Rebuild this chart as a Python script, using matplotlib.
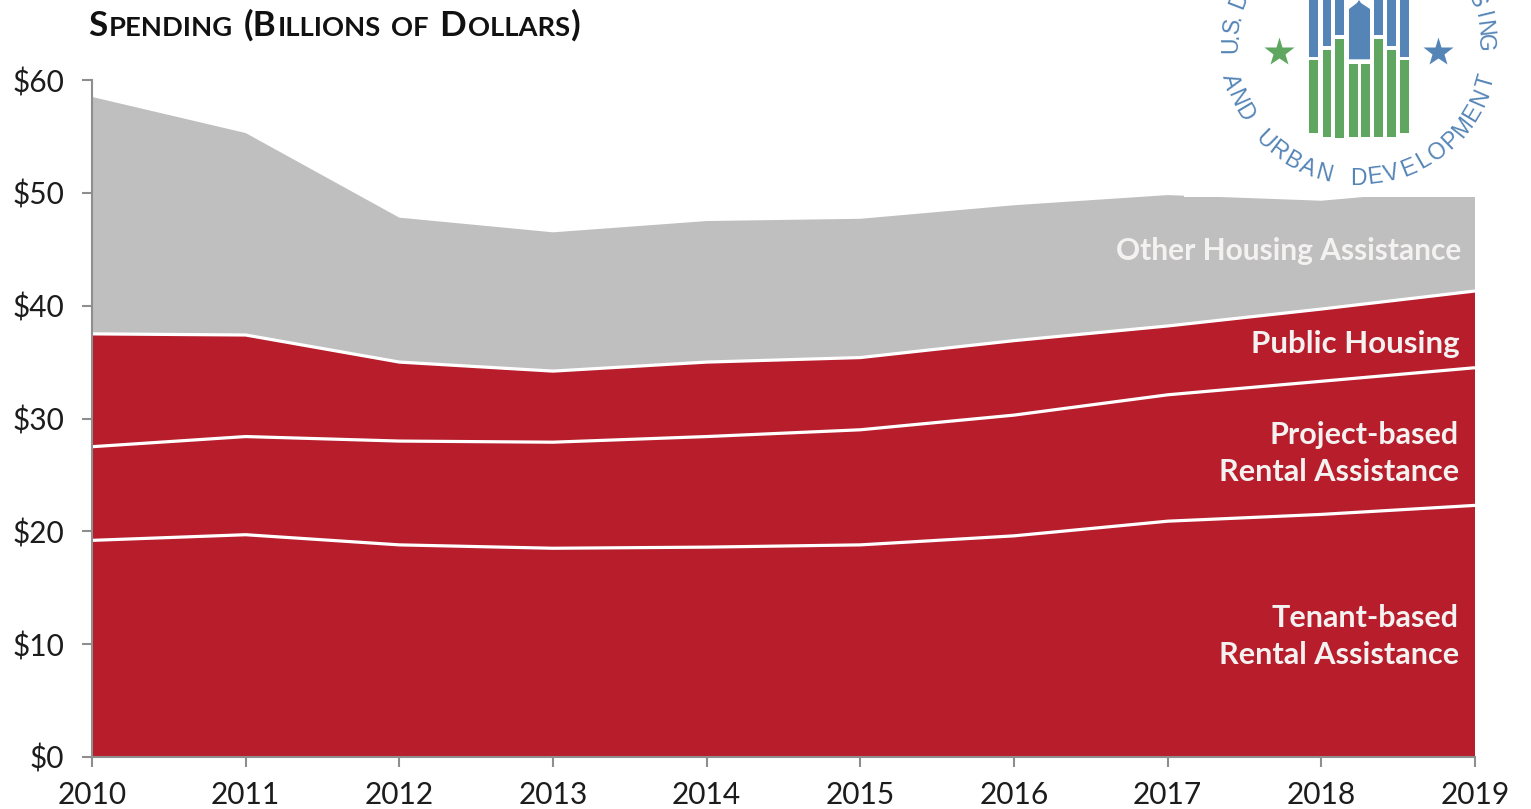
import numpy as np
import matplotlib
matplotlib.use("Agg")
import matplotlib.pyplot as plt
from matplotlib.patches import Rectangle, Polygon

W, H = 1531, 809

years = [2010, 2011, 2012, 2013, 2014, 2015, 2016, 2017, 2018, 2019]
tenant_based = [19.2, 19.7, 18.8, 18.5, 18.6, 18.8, 19.6, 20.9, 21.5, 22.3]
project_based = [8.3, 8.7, 9.2, 9.4, 9.8, 10.2, 10.7, 11.2, 11.8, 12.2]
public_housing = [10.0, 9.0, 7.0, 6.3, 6.6, 6.4, 6.6, 6.1, 6.4, 6.8]
other_assistance = [21.0, 17.9, 12.8, 12.3, 12.5, 12.3, 12.0, 11.6, 9.6, 9.2]

y_ticks = [0, 10, 20, 30, 40, 50, 60]

RED = "#B81D2C"
GRAY = "#BFBFBF"
AXIS = "#8E8E8E"
INK = "#1C1C1C"
BLUE = "#5585B6"
GREEN = "#5FA760"

fig = plt.figure(figsize=(W / 100, H / 100), dpi=100, facecolor="white")
ax = fig.add_axes([92 / W, 1 - 757 / H, (1475 - 92) / W, (757 - 80) / H])

ax.stackplot(years, tenant_based, project_based, public_housing, other_assistance,
             colors=[RED, RED, RED, GRAY], linewidth=0)

# White rules between the stacked bands
cumulative = np.cumsum([tenant_based, project_based, public_housing], axis=0)
for boundary in cumulative:
    ax.plot(years, boundary, color="white", lw=2.3, solid_capstyle="butt")

ax.set_xlim(2010, 2019)
ax.set_ylim(0, 60)
ax.set_xticks(years)
ax.set_yticks(y_ticks)
ax.set_yticklabels([f"${v}" for v in y_ticks])
ax.tick_params(axis="both", length=7, width=1.5, color=AXIS, labelsize=21.5,
               labelcolor=INK)
ax.tick_params(axis="x", pad=10)
ax.tick_params(axis="y", pad=13)
for lab in ax.get_xticklabels() + ax.get_yticklabels():
    lab.set_family("Lato")
for side in ("top", "right"):
    ax.spines[side].set_visible(False)
for side in ("left", "bottom"):
    ax.spines[side].set_color(AXIS)
    ax.spines[side].set_linewidth(1.5)

# Overlay in canvas pixels for annotation text and the seal
ov = fig.add_axes([0, 0, 1, 1], facecolor="none")
ov.set_xlim(0, W)
ov.set_ylim(H, 0)
ov.axis("off")

band_labels = [
    ("Other Housing Assistance", 1461, 251, 21.5),
    ("Public Housing", 1460, 344, 22.5),
    ("Project-based", 1459, 435, 22),
    ("Rental Assistance", 1459, 472, 22.1),
    ("Tenant-based", 1459, 618, 22),
    ("Rental Assistance", 1459, 655, 22.1),
]
for text, x, y, size in band_labels:
    ov.text(x, y, text, color="#F4F1F1", family="Lato", weight="bold", fontsize=size,
            ha="right", va="center")

# Small-caps heading assembled from large and small runs
title_runs = [("S", 1), ("PENDING", 0), (" ", 0), ("(B", 1), ("ILLIONS", 0), (" ", 0),
              ("OF", 0), (" ", 0), ("D", 1), ("OLLARS", 0), (")", 1)]
fig.canvas.draw()
renderer = fig.canvas.get_renderer()
cursor = 88
for run, large in title_runs:
    if run == " ":
        cursor += 9
        continue
    t = ov.text(cursor, 36, run, color="#111111", family="Lato",
                weight="bold", fontsize=25.2 if large else 19.7, ha="left", va="baseline")
    cursor += t.get_window_extent(renderer).width + 1.5

# Seal: masks the chart corner, then bars, stars and ring lettering
ov.add_patch(Rectangle((1184, 0), W - 1184, 196.5, fc="white", ec="none"))

blue_left = [1309.3, 1322.7, 1335.3, 1374, 1387, 1400]
blue_width = [9, 8.5, 9, 8.7, 8.7, 9]
blue_bottom = [57.3, 46, 35, 35, 46, 57.3]
for x, w, b in zip(blue_left, blue_width, blue_bottom):
    ov.add_patch(Rectangle((x, 0), w, b, fc=BLUE, ec="none"))
ov.add_patch(Polygon([(1349, 59.3), (1349, 9), (1357, 3), (1359, 0), (1361, 3), (1370, 9),
                      (1370, 59.3)], fc=BLUE, ec="none"))

green_left = [1309.3, 1322.7, 1335.3, 1349, 1361.3, 1374, 1387, 1400]
green_width = [9, 8.5, 9, 8.7, 9, 8.7, 8.7, 9]
green_top = [60, 50, 39.3, 64, 64, 38.7, 50, 60]
green_bottom = [133.3, 137.3, 138.3, 137.3, 137.3, 137.3, 137.3, 133.3]
for x, w, t, b in zip(green_left, green_width, green_top, green_bottom):
    ov.add_patch(Rectangle((x, t), w, b - t, fc=GREEN, ec="none"))

ov.plot([1279.3], [52.3], marker="*", ms=22, mfc=GREEN, mec="none")
ov.plot([1438], [52.3], marker="*", ms=22, mfc=BLUE, mec="none")

cx, cy = 1358, 45


def ring_letter(ch, deg, upper):
    """Place one letter on the ring; deg is measured from the top or the bottom."""
    a = np.radians(deg)
    if upper:
        r = 127
        x, y, rot = cx + r * np.sin(a), cy - r * np.cos(a), -deg
    else:
        r = 133
        x, y, rot = cx + r * np.sin(a), cy + r * np.cos(a), deg
    ov.text(x, y, ch, color=BLUE, family="Liberation Sans", fontsize=16.5, rotation=rot,
            rotation_mode="anchor", ha="center", va="center")


for ch, deg in zip("U.S. D", [-90, -85.5, -81, -77, -73.5, -69]):
    ring_letter(ch, deg, True)
for ch, deg in zip("SING", [69, 76.5, 82.5, 89]):
    ring_letter(ch, deg, True)
for i, ch in enumerate("AND URBAN DEVELOPMENT"):
    ring_letter(ch, -74 + i * 7.4, False)

fig.savefig("out.png", dpi=100, facecolor="white")
